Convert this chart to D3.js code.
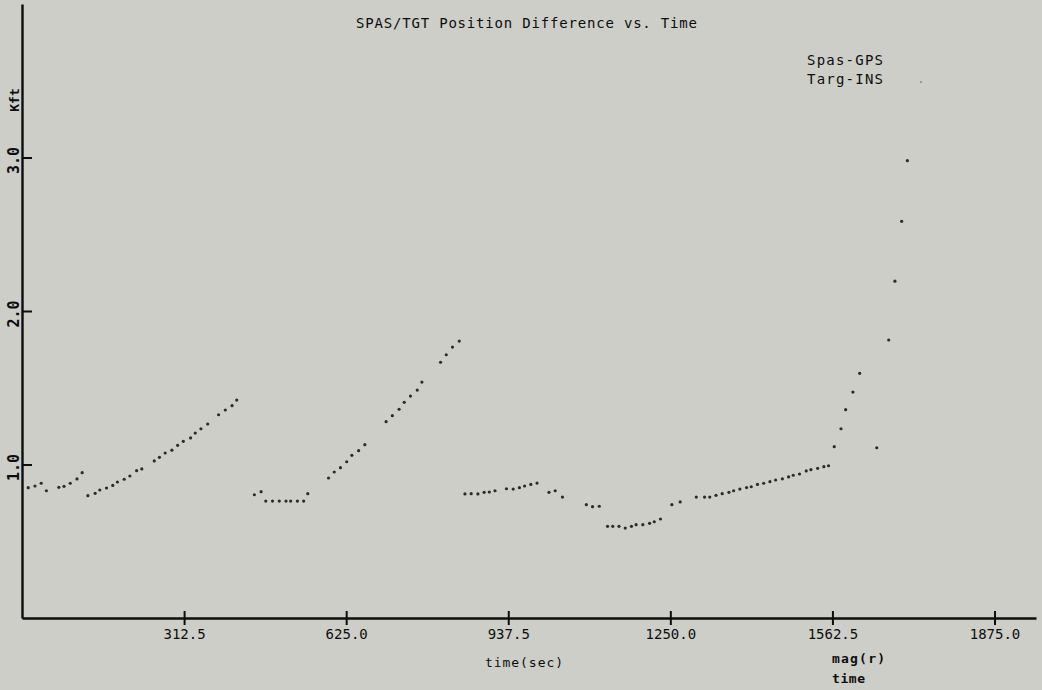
<!DOCTYPE html>
<html>
<head>
<meta charset="utf-8">
<script src="https://cdn.jsdelivr.net/npm/d3@7"></script>
<style>
  body { margin: 0; background: #cdcec8; }
  text { font-family: "DejaVu Sans Mono", monospace; fill: #0d0d0d; }
</style>
</head>
<body>
<svg id="plotSVG" width="1042" height="690"></svg>
<script>
// time (sec) and mag(r) (Kft)
const timeSec = [
  12, 25, 37, 47, 71, 81, 93, 106, 116,
  127, 141, 150, 163, 175, 184, 197, 208, 221, 231, 255, 265, 276, 289, 300,
  311, 325, 334, 345, 358, 379, 392, 405, 414,
  448, 461, 470, 483, 496, 509, 518, 531, 543, 551,
  591, 602, 614, 626, 636, 649, 661, 702, 714, 727, 737, 749, 762, 771,
  807, 818, 830, 843,
  854, 866, 879, 891, 901, 912, 934, 947, 959, 969, 981, 993,
  1016, 1028, 1042, 1088, 1100, 1113,
  1129, 1139, 1151, 1163, 1175, 1184, 1197, 1210, 1219, 1231,
  1253, 1269, 1300, 1316, 1326, 1338, 1350, 1363, 1372, 1384, 1397, 1406,
  1418, 1430, 1442, 1453, 1466, 1478, 1487, 1499, 1512, 1521, 1534, 1546, 1555,
  1566, 1579, 1588, 1602, 1615, 1648, 1671, 1683, 1696, 1707
];
const magKft = [
  0.849, 0.860, 0.878, 0.829, 0.851, 0.858, 0.878, 0.906, 0.947,
  0.797, 0.812, 0.834, 0.847, 0.864, 0.886, 0.904, 0.925, 0.960, 0.971, 1.023, 1.047, 1.075, 1.093, 1.125,
  1.151, 1.173, 1.205, 1.233, 1.264, 1.324, 1.355, 1.383, 1.420,
  0.803, 0.823, 0.762, 0.762, 0.762, 0.762, 0.762, 0.762, 0.762, 0.810,
  0.912, 0.951, 0.979, 1.018, 1.060, 1.090, 1.129, 1.279, 1.318, 1.360, 1.405, 1.446, 1.485, 1.537,
  1.666, 1.715, 1.765, 1.804,
  0.808, 0.810, 0.808, 0.819, 0.821, 0.829, 0.842, 0.840, 0.849, 0.860, 0.870, 0.879,
  0.819, 0.829, 0.788, 0.738, 0.725, 0.728,
  0.597, 0.597, 0.597, 0.586, 0.597, 0.608, 0.608, 0.617, 0.627, 0.645,
  0.738, 0.756, 0.788, 0.788, 0.788, 0.799, 0.810, 0.819, 0.829, 0.840, 0.850, 0.855,
  0.870, 0.878, 0.888, 0.899, 0.907, 0.919, 0.930, 0.938, 0.958, 0.966, 0.975, 0.986, 0.992,
  1.116, 1.233, 1.357, 1.472, 1.594, 1.109, 1.811, 2.194, 2.584, 2.979
];
const xTicks = [312.5, 625.0, 937.5, 1250.0, 1562.5, 1875.0];
const yTicks = [1.0, 2.0, 3.0];
const legendLabels = ["Spas-GPS", "Targ-INS"];

const svg = d3.select("#plotSVG");
const x = d3.scaleLinear().domain([0, 1955]).range([22, 1036]);
const y = d3.scaleLinear().domain([0, 4]).range([618, 4]);

const pts = timeSec.map((t, i) => ({ t: t, v: magKft[i] }));

// x axis, ticks crossing the line
const xAxis = svg.append("g")
    .attr("transform", "translate(0," + y(0) + ")")
    .call(d3.axisBottom(x).tickValues(xTicks).tickSizeInner(7).tickSizeOuter(0).tickPadding(4)
      .tickFormat(d3.format(".1f")));
xAxis.select(".domain").attr("stroke", "#0d0d0d").attr("stroke-width", 2.4);
xAxis.selectAll(".tick line").attr("y1", -7).attr("stroke", "#0d0d0d").attr("stroke-width", 2);
xAxis.selectAll(".tick text").attr("font-size", 14).attr("font-family", "DejaVu Sans Mono")
    .attr("fill", "#0d0d0d");

// y axis, ticks inside
const yAxis = svg.append("g")
    .attr("transform", "translate(" + x(0) + ",0)")
    .call(d3.axisRight(y).tickValues(yTicks).tickSizeInner(10).tickSizeOuter(0).tickFormat(""));
yAxis.select(".domain").attr("stroke", "#0d0d0d").attr("stroke-width", 2.4);
yAxis.selectAll(".tick line").attr("stroke", "#0d0d0d").attr("stroke-width", 2);

svg.selectAll(".ylab")
  .data(yTicks)
  .enter().append("text")
    .attr("class", "ylab")
    .attr("transform", d => "translate(19," + (y(d) + 3) + ") rotate(-90)")
    .attr("text-anchor", "middle")
    .attr("font-size", 15)
    .attr("font-weight", "bold")
    .text(d => d.toFixed(1));

svg.append("text")
    .attr("transform", "translate(19,100) rotate(-90)")
    .attr("text-anchor", "middle")
    .attr("font-size", 13)
    .attr("font-weight", "bold")
    .text("Kft");

// data points
svg.append("g").selectAll("circle")
  .data(pts)
  .enter().append("circle")
    .attr("cx", d => x(d.t))
    .attr("cy", d => y(d.v))
    .attr("r", 1.6)
    .attr("fill", "#2b2b2b");

// title
svg.append("text")
    .attr("x", 356).attr("y", 28)
    .attr("font-size", 14)
    .attr("textLength", 341).attr("lengthAdjust", "spacing")
    .text("SPAS/TGT Position Difference vs. Time");

// legend
svg.selectAll(".leg")
  .data(legendLabels)
  .enter().append("text")
    .attr("class", "leg")
    .attr("x", 807)
    .attr("y", (d, i) => 65 + i * 19)
    .attr("font-size", 14)
    .attr("textLength", 76).attr("lengthAdjust", "spacing")
    .text(d => d);
svg.append("circle").attr("cx", 921).attr("cy", 82).attr("r", 0.8).attr("fill", "#555");

// axis labels
svg.append("text")
    .attr("x", 524).attr("y", 667)
    .attr("text-anchor", "middle")
    .attr("font-size", 13)
    .attr("textLength", 78).attr("lengthAdjust", "spacing")
    .text("time(sec)");
svg.append("text")
    .attr("x", 832).attr("y", 663)
    .attr("font-size", 13).attr("font-weight", "bold")
    .attr("textLength", 53).attr("lengthAdjust", "spacing")
    .text("mag(r)");
svg.append("text")
    .attr("x", 832).attr("y", 683)
    .attr("font-size", 13).attr("font-weight", "bold")
    .attr("textLength", 33).attr("lengthAdjust", "spacing")
    .text("time");
</script>
</body>
</html>
